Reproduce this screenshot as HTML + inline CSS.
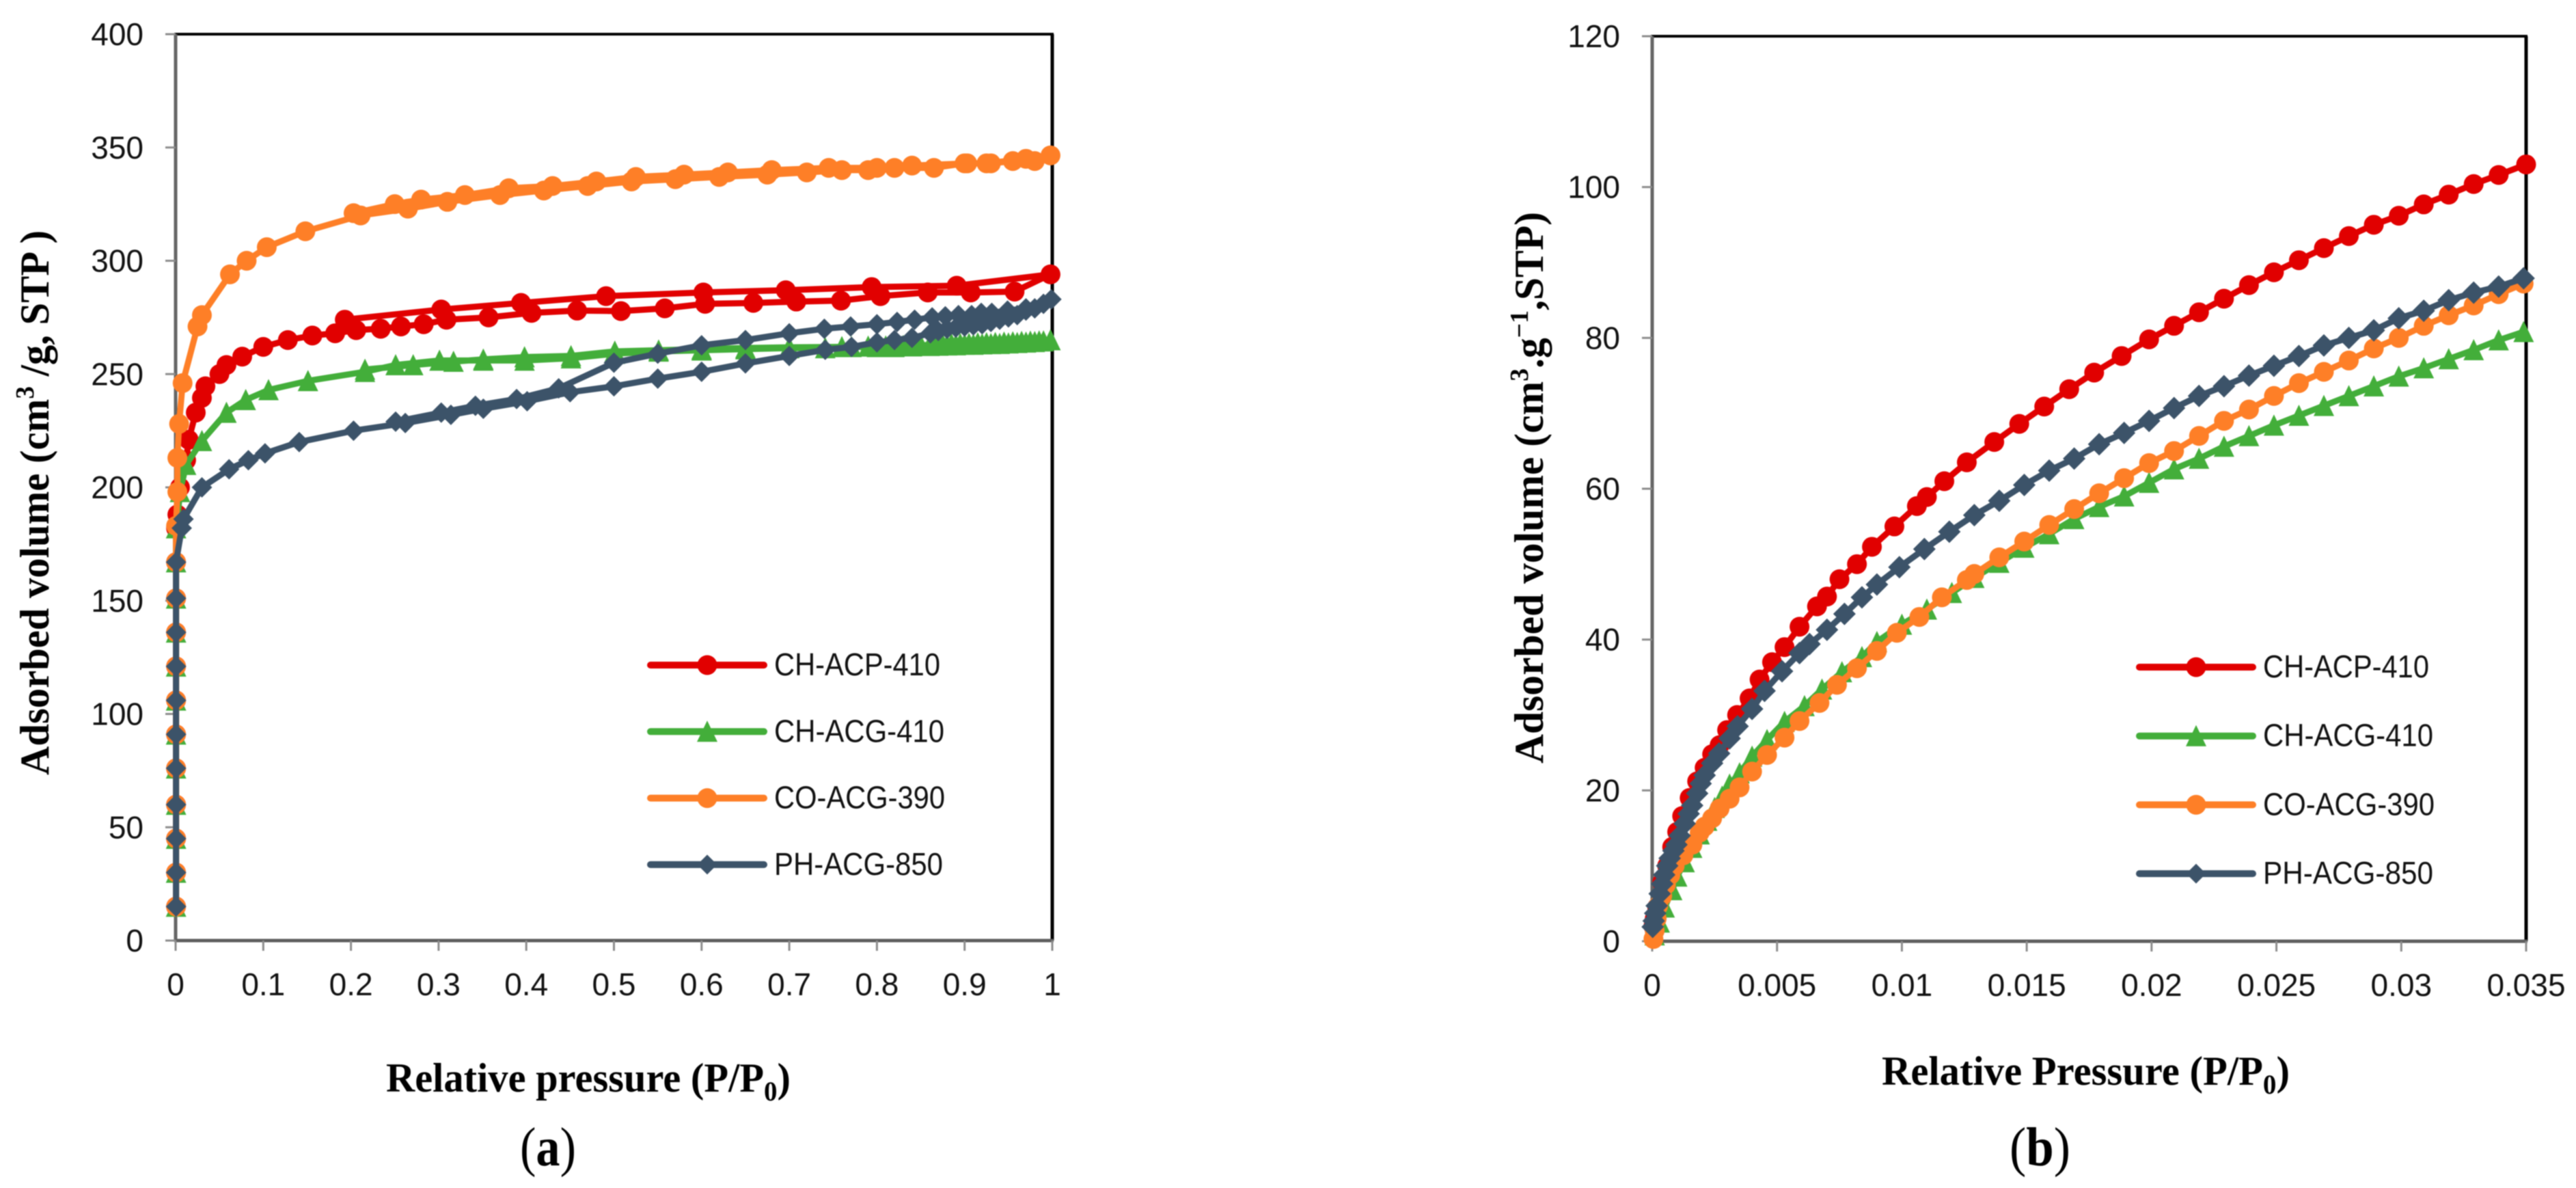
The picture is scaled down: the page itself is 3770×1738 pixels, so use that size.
<!DOCTYPE html>
<html lang="en">
<head>
<meta charset="utf-8">
<title>Adsorption isotherms</title>
<style>
  html, body { margin: 0; padding: 0; background: #fff; width: 3770px; height: 1738px; overflow: hidden; }
  svg { position: absolute; left: 0; top: 0; filter: blur(0.9px); }
  .tick { font-family: "Liberation Sans", sans-serif; font-size: 46px; fill: #111; }
  .legend { font-family: "Liberation Sans", sans-serif; font-size: 46px; fill: #111; }
  .title { font-family: "Liberation Serif", serif; font-weight: bold; font-size: 60px; fill: #000; }
  .caption { font-family: "Liberation Serif", serif; font-size: 80px; fill: #000; }
</style>
</head>
<body>
<svg id="figure" xmlns="http://www.w3.org/2000/svg" width="3770" height="1738" viewBox="0 0 3770 1738">
  <rect width="3770" height="1738" fill="#fff"/>
  <g id="panel-a"></g>
  <g id="panel-b"></g>

  <text class="title" transform="rotate(-90 71 1134)" x="71" y="1134" textLength="797" lengthAdjust="spacingAndGlyphs">Adsorbed volume (cm<tspan dy="-22" font-size="38">3</tspan><tspan dy="22"> /g, STP )</tspan></text>
  <text class="title" x="565" y="1597" textLength="592" lengthAdjust="spacingAndGlyphs">Relative pressure (P/P<tspan dy="13" font-size="40">0</tspan><tspan dy="-13">)</tspan></text>
  <text class="caption" x="761" y="1705" textLength="82" lengthAdjust="spacingAndGlyphs">(<tspan font-weight="bold">a</tspan>)</text>

  <text class="title" transform="rotate(-90 2258 1117)" x="2258" y="1117" textLength="807" lengthAdjust="spacingAndGlyphs">Adsorbed volume (cm<tspan dy="-22" font-size="38">3</tspan><tspan dy="22">.g</tspan><tspan dy="-22" font-size="38">−1</tspan><tspan dy="22">,STP)</tspan></text>
  <text class="title" x="2754" y="1587" textLength="597" lengthAdjust="spacingAndGlyphs">Relative Pressure (P/P<tspan dy="13" font-size="40">0</tspan><tspan dy="-13">)</tspan></text>
  <text class="caption" x="2941" y="1705" textLength="89" lengthAdjust="spacingAndGlyphs">(<tspan font-weight="bold">b</tspan>)</text>
</svg>

<script>
// ---------- Shared labels ----------
const seriesNames = ['CH-ACP-410', 'CH-ACG-410', 'CO-ACG-390', 'PH-ACG-850'];

// ---------- Panel (a) tick labels ----------
const panelAXTicks = [0, 0.1, 0.2, 0.3, 0.4, 0.5, 0.6, 0.7, 0.8, 0.9, 1];
const panelAYTicks = [0, 50, 100, 150, 200, 250, 300, 350, 400];

// ---------- Panel (a) series: full isotherm ----------
const aPressureCHACP = [0.0005,0.0005,0.0005,0.0005,0.0005,0.0005,0.0005,0.0005,0.0005,0.0005,0.0005,0.0005,
  .002,.005,.012,.015,.023,.030,.034,.05,.058,.076,.10,.128,.156,.182,.206,.234,.257,.283,.309,.357,.406,.458,.508,.558,.604,.659,.708,.759,.804,.858,.907,.957,.998,
  .891,.794,.696,.602,.491,.394,.303,.193];
const aVolumeCHACP = [15,30,45,60,76,91,106,121,136,151,167,182,
  188,200,212,221,233,239.5,244.6,250,254,257.7,262,265,267,268,269.4,270,271,272,274,275,277,278,277.8,279,281,281.4,282,282.4,284.4,286,286,286.4,294,
  289,288.4,287,286,284.4,281.4,278.5,274];

const aPressureCHACG = [0.0005,0.0005,0.0005,0.0005,0.0005,0.0005,0.0005,0.0005,0.0005,0.0005,0.0005,0.0005,
  .002,.005,.012,.03,.058,.08,.106,.151,.216,.251,.301,.351,.398,.451,.501,.551,.60,.65,.70,.741,.771,.80,.82,.84,.86,.87,.88,.89,.90,.91,.92,.93,.94,.95,.96,.97,.98,.99,.998,
  .985,.975,.965,.955,.945,.935,.925,.915,.905,.895,.885,.875,.865,.85,.83,.81,.79,.76,.70,.65,.60,.551,.501,.451,.398,.351,.317,.271,.216];
const aVolumeCHACG = [15,30,45,60,76,91,106,121,136,151,167,182,
  186,198,210,220.5,233,238.6,243,247,251,254,256,256,256,257,259,260,260.5,261,261.5,261.5,262,262,262,262.3,262.5,262.6,262.7,262.8,263,263,263.2,263.3,263.4,263.6,263.8,264,264.2,264.5,265,
  264.5,264.4,264.3,264.1,264,263.8,263.7,263.6,263.4,263.3,263.2,263,262.9,262.7,262.5,262.3,262.2,262,261.8,261.5,261,260.5,260,258,257.5,256.5,255.5,254,252];

const aPressureCOACG = [0.0005,0.0005,0.0005,0.0005,0.0005,0.0005,0.0005,0.0005,0.0005,0.0005,0.0005,0.0005,
  .002,.002,.004,.008,.025,.030,.062,.081,.104,.148,.211,.265,.31,.37,.42,.47,.52,.57,.62,.675,.72,.76,.79,.82,.865,.90,.93,.955,.98,.998,
  .97,.925,.903,.84,.80,.745,.68,.63,.58,.525,.48,.43,.38,.33,.28,.25,.203];
const aVolumeCOACG = [15,30,45,60,76,91,106,121,136,151,167,183,
  198,213,228,246,271,276,294,300,306,313,320,323,326,329,331,333,335,336,337,338,339,340,340,341,341,343,343,344,344,346.5,
  345,343,343,342,341,341,340,339,338,337,335,333,332,329,327,325,321];

const aPressurePHACG = [0.0005,0.0005,0.0005,0.0005,0.0005,0.0005,0.0005,0.0005,0.0005,0.0005,0.0005,
  .007,.009,.03,.061,.083,.102,.141,.203,.262,.314,.351,.401,.45,.5,.55,.6,.65,.7,.741,.771,.8,.82,.84,.861,.87,.88,.89,.90,.91,.92,.93,.94,.95,.96,.97,.98,.99,.999,
  .97,.949,.931,.919,.908,.893,.878,.863,.843,.823,.80,.77,.74,.7,.65,.6,.55,.5,.437,.389,.342,.303,.251];
const aVolumePHACG = [15,30,45,60,76,91,106,121,136,151,167,
  182,186,200,208,212,215,220,225,228.4,232,234.7,238,242,244.6,248,251,254.7,258,260.7,262,264,265,266,268,269,270,270.5,271,271.5,272,273,274,275,276,278,279,281,283,
  279,278,277,277,276,276,275.5,275,274,273,272,271,270,268,265,262.7,259,255,243.7,239,236,233,229];

// ---------- Panel (b) tick labels ----------
const panelBXTicks = [0, 0.005, 0.01, 0.015, 0.02, 0.025, 0.03, 0.035];
const panelBYTicks = [0, 20, 40, 60, 80, 100, 120];

// ---------- Panel (b) series: low-pressure region ----------
const bPressureCHACP = [.00005,.0001,.0002,.0004,.0006,.0008,.001,.0012,.0015,.0018,
  .0021,.0024,.0027,.003,.0034,.0039,.0043,.0048,.0053,.0059,
  .0066,.007,.0075,.0082,.0088,.0097,.0106,.011,.0117,.0126,
  .0137,.0147,.0157,.0167,.0177,.0188,.0199,.0209,.0219,.0229,
  .0239,.0249,.0259,.0269,.0279,.0289,.0299,.0309,.0319,.0329,.0339,.035];
const bVolumeCHACP = [2,3,4.5,7.8,10,12.5,14.5,16.6,19,21.2,
  23,24.8,26,28,30,32.2,34.7,37,39,41.7,
  44.4,45.7,48,50,52.3,55,57.7,58.9,61,63.5,
  66.2,68.6,70.9,73.2,75.4,77.6,79.8,81.6,83.4,85.2,
  87,88.7,90.3,91.9,93.5,95,96.2,97.7,99,100.4,101.6,103];

const bPressureCHACG = [.0001,.0003,.0005,.0008,.001,.0013,.0016,.0019,.0022,.0025,
  .0028,.0031,.0035,.004,.0046,.0053,.0061,.0068,.0076,.0084,
  .009,.01,.011,.012,.0129,.0139,.0149,.0159,.0169,.0179,
  .0189,.0199,.0209,.0219,.0229,.0239,.0249,.0259,.0269,.0279,
  .0289,.0299,.0309,.0319,.0329,.0339,.0349];
const bVolumeCHACG = [.8,2.5,4.5,6.8,8.6,10.5,12.4,14.2,16,17.7,
  19.2,20.8,22.3,24.5,26.7,29.1,31.2,33.4,35.7,37.7,
  39.7,42,44,46.2,48.2,50.2,52.2,54,56,57.6,
  59,60.8,62.6,64,65.6,67,68.4,69.7,71,72.3,
  73.6,74.9,76,77.2,78.4,79.7,80.8];

const bPressureCOACG = [.00005,.0001,.00018,.00024,.0004,.00055,.00073,.0009,.00125,.00161,
  .0019,.0021,.0024,.0027,.0031,.0035,.004,.0046,.0053,.0059,
  .0067,.0074,.0082,.009,.0098,.0107,.0116,.0126,.0129,.0139,
  .0149,.0159,.0169,.0179,.0189,.0199,.0209,.0219,.0229,.0239,
  .0249,.0259,.0269,.0279,.0289,.0299,.0309,.0319,.0329,.0339,.0349];
const bVolumeCOACG = [.3,1.4,3,4.7,6,7.5,8.8,10,11.4,12.8,
  14.4,15.2,16.3,17.6,18.9,20.4,22.5,24.7,27,29.2,
  31.6,34,36.2,38.5,40.9,43,45.6,47.9,48.7,50.9,
  53,55.2,57.3,59.4,61.4,63.4,65,67,69,70.5,
  72.3,74,75.5,77,78.6,80,81.6,83,84.3,85.8,87.2];

const bPressurePHACG = [.00002,.00006,.00012,.00018,.0003,.0004,.00048,.0006,.0007,.00085,
  .00097,.0011,.0013,.00146,.0016,.0018,.00194,.0021,.0024,.00268,
  .0031,.00342,.004,.0045,.0052,.0059,.0063,.007,.0077,.0084,
  .009,.0099,.0109,.0119,.0129,.0139,.0149,.0159,.0169,.0179,
  .0189,.0199,.0209,.0219,.0229,.0239,.0249,.0259,.0269,.0279,
  .0289,.0299,.0309,.0319,.0329,.0339,.0349];
const bVolumePHACG = [1.9,2.7,3.7,4.7,6.3,7.6,8.8,10,11,12,
  12.8,14,15.6,16.9,18,19.6,20.9,22,23.6,24.9,
  26.9,28.5,30.8,33.2,35.8,38.2,39.4,41.3,43.4,45.6,
  47.3,49.6,52,54.3,56.5,58.4,60.5,62.4,64,65.9,
  67.4,69,70.7,72.3,73.6,75,76.3,77.6,79,80,
  81,82.6,83.6,85,86,86.8,87.9];

// ---------- Rendering ----------
const SVG_NS = 'http://www.w3.org/2000/svg';
const seriesColors = ['#E10000', '#43AE3A', '#FE7F27', '#3C5369'];
const seriesShapes = ['circle', 'triangle', 'circle', 'diamond'];

function make(parent, tag, attrs, name) {
  const el = document.createElementNS(SVG_NS, tag);
  for (const k in attrs) el.setAttribute(k, attrs[k]);
  
  
  parent.appendChild(el);
  return el;
}

function drawMarker(parent, shape, cx, cy, color, name, diamondSize) {
  if (shape === 'circle') {
    make(parent, 'circle', { cx: cx, cy: cy, r: 14.5, fill: color }, name);
  } else if (shape === 'triangle') {
    const pts = [[cx, cy - 16], [cx + 15, cy + 15], [cx - 15, cy + 15]].join(' ');
    make(parent, 'polygon', { points: pts, fill: color }, name);
  } else {
    const s = diamondSize;
    const pts = [[cx, cy - s], [cx + s, cy], [cx, cy + s], [cx - s, cy]].join(' ');
    make(parent, 'polygon', { points: pts, fill: color }, name);
  }
}

function drawPanel(cfg) {
  const g = document.getElementById(cfg.id);
  const xScale = function (v) { return cfg.left + v / cfg.xMax * (cfg.right - cfg.left); };
  const yScale = function (v) { return cfg.bottom - v / cfg.yMax * (cfg.bottom - cfg.top); };

  // plot frame
  make(g, 'line', { x1: cfg.left - 2, y1: cfg.top, x2: cfg.right + 2, y2: cfg.top, stroke: '#000', 'stroke-width': 4 }, cfg.prefix + '-frame-top');
  make(g, 'line', { x1: cfg.right, y1: cfg.top, x2: cfg.right, y2: cfg.bottom, stroke: '#000', 'stroke-width': 5 }, cfg.prefix + '-frame-right');
  make(g, 'line', { x1: cfg.left, y1: cfg.top, x2: cfg.left, y2: cfg.bottom + 2, stroke: '#666', 'stroke-width': 5 }, cfg.prefix + '-y-axis');
  make(g, 'line', { x1: cfg.left, y1: cfg.bottom, x2: cfg.right + 2, y2: cfg.bottom, stroke: '#5f5f5f', 'stroke-width': 5 }, cfg.prefix + '-x-axis');

  // y ticks
  cfg.yTicks.forEach(function (t) {
    const y = yScale(t);
    make(g, 'line', { x1: cfg.left - 15, y1: y, x2: cfg.left, y2: y, stroke: '#8c8c8c', 'stroke-width': 3 }, cfg.prefix + '-y-tick');
    const label = make(g, 'text', { x: cfg.left - 47, y: y + 16, 'text-anchor': 'end', class: 'tick' }, cfg.prefix + '-y-tick-label');
    label.textContent = String(t);
  });

  // x ticks
  cfg.xTicks.forEach(function (t) {
    const x = xScale(t);
    make(g, 'line', { x1: x, y1: cfg.bottom, x2: x, y2: cfg.bottom + 15, stroke: '#8c8c8c', 'stroke-width': 3 }, cfg.prefix + '-x-tick');
    const label = make(g, 'text', { x: x, y: cfg.bottom + 80, 'text-anchor': 'middle', class: 'tick' }, cfg.prefix + '-x-tick-label');
    label.textContent = String(t);
  });

  // series
  cfg.series.forEach(function (s, i) {
    const sg = make(g, 'g', {}, cfg.prefix + '-series-' + seriesNames[i].toLowerCase());
    let d = '';
    for (let k = 0; k < s.x.length; k++) {
      d += (k ? 'L' : 'M') + xScale(s.x[k]).toFixed(1) + ' ' + yScale(s.y[k]).toFixed(1);
    }
    make(sg, 'path', { d: d, fill: 'none', stroke: seriesColors[i], 'stroke-width': 9, 'stroke-linejoin': 'round', 'stroke-linecap': 'round' }, cfg.prefix + '-line-' + seriesNames[i].toLowerCase());
    for (let k = 0; k < s.x.length; k++) {
      drawMarker(sg, seriesShapes[i], xScale(s.x[k]), yScale(s.y[k]), seriesColors[i], cfg.prefix + '-point-' + seriesNames[i].toLowerCase(), cfg.diamondSize);
    }
  });

  // legend
  const lg = make(g, 'g', {}, cfg.prefix + '-legend');
  seriesNames.forEach(function (n, i) {
    const y = cfg.legendY + i * cfg.legendStep;
    const en = make(lg, 'g', {}, cfg.prefix + '-legend-entry-' + n.toLowerCase());
    make(en, 'line', { x1: cfg.legendX, y1: y, x2: cfg.legendX + 166, y2: y, stroke: seriesColors[i], 'stroke-width': 10, 'stroke-linecap': 'round' }, cfg.prefix + '-legend-line');
    drawMarker(en, seriesShapes[i], cfg.legendX + 83, y, seriesColors[i], cfg.prefix + '-legend-marker', 14.5);
    const label = make(en, 'text', { x: cfg.legendX + 181, y: y + 15, class: 'legend', textLength: cfg.legendWidths[i], lengthAdjust: 'spacingAndGlyphs' }, cfg.prefix + '-legend-label');
    label.textContent = n;
  });
}

drawPanel({
  id: 'panel-a', prefix: 'panel-a',
  left: 257, right: 1540, top: 50, bottom: 1376,
  xMax: 1, yMax: 400, diamondSize: 15,
  xTicks: panelAXTicks, yTicks: panelAYTicks,
  legendX: 952, legendY: 973, legendStep: 97.3, legendWidths: [243, 249, 250, 247],
  series: [
    { x: aPressureCHACP, y: aVolumeCHACP },
    { x: aPressureCHACG, y: aVolumeCHACG },
    { x: aPressureCOACG, y: aVolumeCOACG },
    { x: aPressurePHACG, y: aVolumePHACG }
  ]
});

drawPanel({
  id: 'panel-b', prefix: 'panel-b',
  left: 2418, right: 3697, top: 53, bottom: 1377,
  xMax: 0.035, yMax: 120, diamondSize: 16.5,
  xTicks: panelBXTicks, yTicks: panelBYTicks,
  legendX: 3131, legendY: 976, legendStep: 100.7, legendWidths: [243, 249, 251, 249],
  series: [
    { x: bPressureCHACP, y: bVolumeCHACP },
    { x: bPressureCHACG, y: bVolumeCHACG },
    { x: bPressureCOACG, y: bVolumeCOACG },
    { x: bPressurePHACG, y: bVolumePHACG }
  ]
});
</script>
</body>
</html>
